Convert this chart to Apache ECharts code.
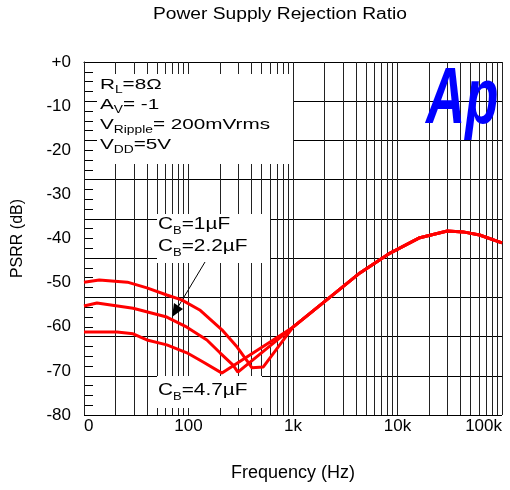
<!DOCTYPE html>
<html>
<head>
<meta charset="utf-8">
<script src="https://cdn.jsdelivr.net/npm/echarts@6/dist/echarts.min.js"></script>
<style>
  html, body { margin: 0; background: #fff; }
  #psrr { width: 510px; height: 490px; }
</style>
</head>
<body>
<div id="psrr"></div>
<script>
// PSRR curves: frequency (Hz) / PSRR (dB)
const freq1u = [10, 14, 26, 40, 62, 86, 128, 209, 292, 371, 405, 520];
const db1u = [-49.9, -49.4, -49.9, -51.2, -52.8, -53.9, -56.2, -60.7, -64.6, -68.0, -69.3, -69.1];
const freq2u2 = [10, 13.3, 29.5, 62, 96.5, 150, 200, 267, 297];
const db2u2 = [-55.3, -54.6, -55.8, -57.8, -60.1, -63.0, -65.9, -68.7, -70.3];
const freq4u7 = [10, 20.7, 29.5, 40, 62, 96.5, 138, 209];
const db4u7 = [-61.2, -61.2, -61.6, -63.0, -64.1, -65.9, -68.0, -70.5];
// above ~1k the three curves merge
const freqHigh = [1000, 2100, 4370, 8500, 16000, 30000, 42500, 61000, 100000];
const dbHigh = [-60.1, -53.9, -47.8, -43.3, -39.9, -38.3, -38.5, -39.2, -41.0];

const xTickLabels = { 10: "0", 100: "100", 1000: "1k", 10000: "10k", 100000: "100k" };
const decades = [10, 100, 1000, 10000];

const FONT = '"Liberation Sans", Arial, sans-serif';

const gridFreqs = [];
decades.forEach((d) => {
  for (let m = 1; m <= 9; m++) gridFreqs.push(d * m);
});
gridFreqs.push(100000);

function curve(fs, ds) {
  return fs.map((f, i) => [f, ds[i]]).concat(freqHigh.map((f, i) => [f, dbHigh[i]]));
}

const chart = echarts.init(document.getElementById("psrr"));

const redLine = (name, data) => ({
  name: name,
  type: "line",
  data: data,
  symbol: "none",
  z: 4,
  lineStyle: { color: "#ff0000", width: 3 },
  animation: false,
});

// n = normal text, s = subscript (small line height, bottom aligned -> sits low)
const richText = (size, pitch) => ({
  n: { fontSize: size, fontFamily: FONT, lineHeight: pitch, fill: "#000" },
  s: { fontSize: 10, fontFamily: FONT, lineHeight: 6, verticalAlign: "bottom", fill: "#000" },
});

const option = {
  animation: false,
  grid: { left: 84, right: 8, top: 62, bottom: 75 },
  xAxis: {
    type: "log",
    logBase: 10,
    min: 10,
    max: 100000,
    axisLine: { show: true, lineStyle: { color: "#000", width: 1 } },
    axisTick: { show: false },
    splitLine: { show: false },
    axisLabel: {
      formatter: (v) => xTickLabels[Math.round(v)] || "",
      color: "#000",
      fontSize: 17,
      fontFamily: FONT,
      margin: 3,
      alignMinLabel: "left",
      alignMaxLabel: "right",
    },
    name: "Frequency (Hz)",
    nameLocation: "middle",
    nameGap: 49,
    nameTextStyle: { color: "#000", fontSize: 18, fontFamily: FONT },
  },
  yAxis: [
    {
      type: "value",
      min: -80,
      max: 0,
      interval: 10,
      position: "left",
      axisLine: { show: true, lineStyle: { color: "#000", width: 1 } },
      axisTick: { show: false },
      splitLine: { show: false },
      axisLabel: {
        formatter: (v) => (v === 0 ? "+0" : String(v)),
        color: "#000",
        fontSize: 17,
        fontFamily: FONT,
        margin: 13,
      },
      name: "PSRR (dB)",
      nameLocation: "middle",
      nameGap: 58,
      nameTextStyle: { color: "#000", fontSize: 16, fontFamily: FONT },
    },
    {
      // the plotter's own grid: 9 horizontal divisions
      type: "value",
      min: 0,
      max: 9,
      interval: 1,
      position: "left",
      axisLine: { show: false },
      axisLabel: { show: false },
      axisTick: { show: true, inside: true, length: 9, lineStyle: { color: "#000" } },
      minorTick: { show: true, splitNumber: 4, length: 9, lineStyle: { color: "#000" } },
      splitLine: { show: true, lineStyle: { color: "#000", width: 1 } },
    },
  ],
  graphic: [
    {
      type: "text",
      x: 280,
      y: 15,
      scaleX: 1.2,
      style: {
        text: "Power Supply Rejection Ratio",
        font: "16px " + FONT,
        fill: "#000",
        textAlign: "center",
        textVerticalAlign: "middle",
      },
    },
    {
      type: "text",
      x: 426,
      y: 61,
      scaleX: 0.68,
      z: 3,
      style: {
        text: "Ap",
        font: "italic bold 80px " + FONT,
        fill: "#0000ff",
        textVerticalAlign: "top",
      },
    },
    { type: "rect", z: 2, shape: { x: 97, y: 74, width: 196, height: 90 }, style: { fill: "#fff" } },
    { type: "rect", z: 2, shape: { x: 157, y: 214, width: 113, height: 49 }, style: { fill: "#fff" } },
    { type: "rect", z: 2, shape: { x: 157, y: 376, width: 105, height: 32 }, style: { fill: "#fff" } },
    {
      type: "text",
      x: 100,
      y: 75,
      z: 3,
      scaleX: 1.38,
      style: {
        text: "{n|R}{s|L}{n|=8Ω}\n{n|A}{s|V}{n|= -1}\n{n|V}{s|Ripple}{n|= 200mVrms}\n{n|V}{s|DD}{n|=5V}",
        rich: richText(15, 20),
      },
    },
    {
      type: "text",
      x: 158,
      y: 214,
      z: 3,
      scaleX: 1.3,
      style: {
        text: "{n|C}{s|B}{n|=1µF}\n{n|C}{s|B}{n|=2.2µF}",
        rich: richText(16, 22),
      },
    },
    {
      type: "text",
      x: 158,
      y: 380,
      z: 3,
      scaleX: 1.3,
      style: {
        text: "{n|C}{s|B}{n|=4.7µF}",
        rich: richText(16, 22),
      },
    },
    {
      type: "polyline",
      z: 3,
      shape: { points: [[205, 262], [178, 307]] },
      style: { stroke: "#000", lineWidth: 1 },
    },
    {
      type: "polygon",
      z: 3,
      shape: { points: [[172, 317], [174, 303], [183, 309]] },
      style: { fill: "#000" },
    },
  ],
  series: [
    {
      name: "grid",
      type: "line",
      data: [],
      z: 1,
      silent: true,
      markLine: {
        z: 1,
        silent: true,
        symbol: "none",
        animation: false,
        label: { show: false },
        lineStyle: { color: "#222", width: 1, type: "solid" },
        data: gridFreqs.map((f) => ({ xAxis: f })),
      },
    },
    redLine("CB=1µF", curve(freq1u, db1u)),
    redLine("CB=2.2µF", curve(freq2u2, db2u2)),
    redLine("CB=4.7µF", curve(freq4u7, db4u7)),
  ],
};

chart.setOption(option);
</script>
</body>
</html>
